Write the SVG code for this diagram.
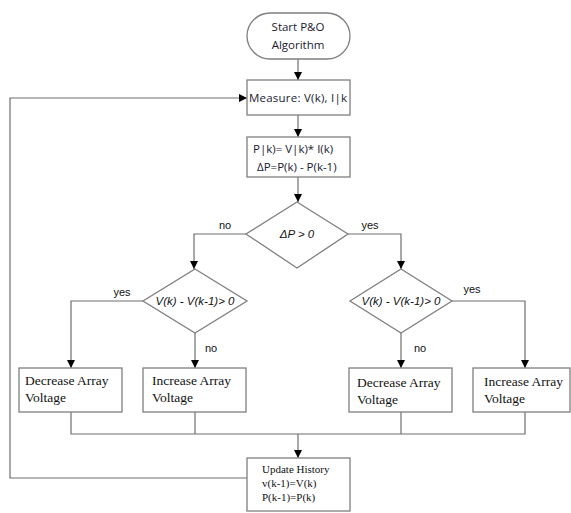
<svg xmlns="http://www.w3.org/2000/svg" width="571" height="513" viewBox="0 0 571 513">
<defs>
<marker id="ah" viewBox="0 0 10 10" refX="10" refY="5" markerWidth="8" markerHeight="8" markerUnits="userSpaceOnUse" orient="auto"><path d="M0,0 L10,5 L0,10 z" fill="#000"/></marker>
<style>
.box{fill:#fff;stroke:#7f7f7f;stroke-width:1.3}
.ln{fill:none;stroke:#6f6f6f;stroke-width:1.2}
.arr{fill:none;stroke:#6f6f6f;stroke-width:1.2;marker-end:url(#ah)}
.cal{font-family:"Open Sans","Liberation Sans",sans-serif;font-size:11.5px;fill:#1a1a2e}
.ser{font-family:"Liberation Serif","DejaVu Serif",serif;font-size:13.5px;fill:#111}
.ser2{font-family:"Liberation Serif","DejaVu Serif",serif;font-size:11px;fill:#111}
.it{font-family:"Liberation Sans",Arial,sans-serif;font-size:11.5px;font-style:italic;fill:#111}
.lbl{font-family:"Liberation Sans",Arial,sans-serif;font-size:11px;fill:#111}
</style>
</defs>
<rect width="571" height="513" fill="#fff"/>
<g id="connectors">
<path class="arr" d="M298,59 V80"/>
<path class="arr" d="M298,115 V137"/>
<path class="arr" d="M298,177 V202"/>
<path class="arr" d="M246,234 H194 V269"/>
<path class="arr" d="M348,234 H401 V269"/>
<path class="arr" d="M143,301 H71 V368"/>
<path class="arr" d="M195,333 V368"/>
<path class="arr" d="M401,333 V368"/>
<path class="arr" d="M452,301 H525 V368"/>
<path class="ln" d="M71,412 V434 H525 V412"/>
<path class="ln" d="M195,412 V434"/>
<path class="ln" d="M401,412 V434"/>
<path class="arr" d="M298,434 V458"/>
<path class="arr" d="M247,478 H10 V98 H247"/>
</g>
<g id="start">
<rect class="box" x="247" y="13" width="103" height="46" rx="23" ry="23"/>
<text class="cal" x="298" y="31" text-anchor="middle">Start P&amp;O</text>
<text class="cal" x="298" y="49" text-anchor="middle">Algorithm</text>
</g>
<g id="measure">
<rect class="box" x="247" y="80" width="103" height="35"/>
<text class="cal" x="298" y="102" text-anchor="middle" textLength="98">Measure: V(k), I|k</text>
</g>
<g id="power">
<rect class="box" x="247" y="137" width="103" height="40"/>
<text class="cal" x="253" y="153">P|k)= V|k)* I(k)</text>
<text class="cal" x="257" y="171">ΔP=P(k) - P(k-1)</text>
</g>
<g id="d1">
<polygon class="box" points="297,202 348,234 297,268 246,234"/>
<text class="it" x="297" y="238" text-anchor="middle">ΔP &gt; 0</text>
<text class="lbl" x="225" y="229" text-anchor="middle">no</text>
<text class="lbl" x="370" y="229" text-anchor="middle">yes</text>
</g>
<g id="d2">
<polygon class="box" points="195,269 247,301 195,333 143,301"/>
<text class="it" x="195" y="305" text-anchor="middle">V(k) - V(k-1)&gt; 0</text>
<text class="lbl" x="122" y="296" text-anchor="middle">yes</text>
<text class="lbl" x="211" y="352" text-anchor="middle">no</text>
</g>
<g id="d3">
<polygon class="box" points="401,269 452,301 401,333 350,301"/>
<text class="it" x="401" y="305" text-anchor="middle">V(k) - V(k-1)&gt; 0</text>
<text class="lbl" x="472" y="293" text-anchor="middle">yes</text>
<text class="lbl" x="420" y="352" text-anchor="middle">no</text>
</g>
<g id="dec1">
<rect class="box" x="19" y="368" width="103" height="44"/>
<text class="ser" x="25" y="385" font-family="Liberation Serif, serif">Decrease Array</text>
<text class="ser" x="25" y="402" font-family="Liberation Serif, serif">Voltage</text>
</g>
<g id="inc1">
<rect class="box" x="143" y="368" width="103" height="44"/>
<text class="ser" x="152" y="385" font-family="Liberation Serif, serif">Increase Array</text>
<text class="ser" x="152" y="402" font-family="Liberation Serif, serif">Voltage</text>
</g>
<g id="dec2">
<rect class="box" x="349" y="368" width="103" height="44"/>
<text class="ser" x="357" y="387" font-family="Liberation Serif, serif">Decrease Array</text>
<text class="ser" x="357" y="404" font-family="Liberation Serif, serif">Voltage</text>
</g>
<g id="inc2">
<rect class="box" x="473" y="368" width="97" height="44"/>
<text class="ser" x="484" y="386" font-family="Liberation Serif, serif">Increase Array</text>
<text class="ser" x="484" y="403" font-family="Liberation Serif, serif">Voltage</text>
</g>
<g id="update">
<rect class="box" x="247" y="458" width="103" height="53"/>
<text class="ser2" x="262" y="473">Update History</text>
<text class="ser2" x="262" y="487">v(k-1)=V(k)</text>
<text class="ser2" x="262" y="501">P(k-1)=P(k)</text>
</g>
</svg>
